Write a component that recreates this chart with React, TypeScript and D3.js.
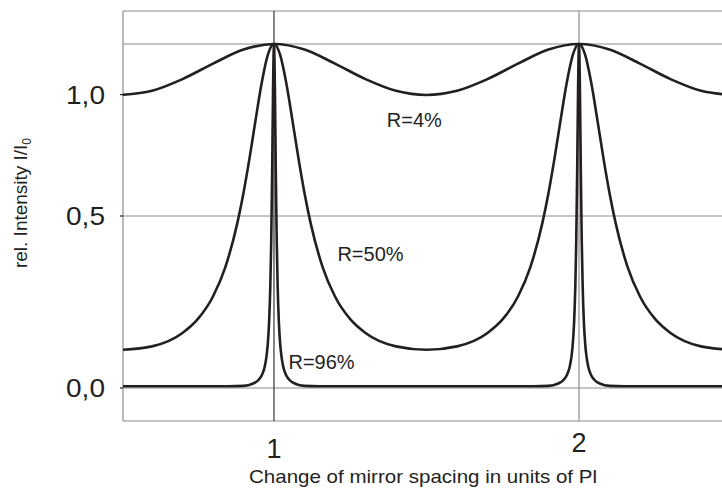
import React from 'react';
import * as d3 from 'd3';

// Transmission of a Fabry-Perot etalon for three mirror reflectivities.
// Values.
const seriesNames = ['R=4%', 'R=50%', 'R=96%'];

const r4X = [0.5, 0.6, 0.7, 0.8, 0.9, 1.0, 1.1, 1.2, 1.3, 1.4, 1.5, 1.6, 1.7, 1.8, 1.9, 2.0, 2.1, 2.2, 2.3, 2.4, 2.5];
const r4Y = [0.852, 0.864, 0.898, 0.943, 0.984, 1.0, 0.984, 0.943, 0.898, 0.864, 0.852, 0.864, 0.898, 0.943, 0.984, 1.0, 0.984, 0.943, 0.898, 0.864, 0.852];

const r50X = [
  0.5, 0.6, 0.7, 0.75, 0.8, 0.84, 0.88, 0.9, 0.92, 0.94, 0.96, 0.98, 1.0,
  1.02, 1.04, 1.06, 1.08, 1.1, 1.12, 1.16, 1.2, 1.25, 1.3, 1.4, 1.5,
  1.6, 1.7, 1.75, 1.8, 1.84, 1.88, 1.9, 1.92, 1.94, 1.96, 1.98, 2.0,
  2.02, 2.04, 2.06, 2.08, 2.1, 2.12, 2.16, 2.2, 2.25, 2.3, 2.4, 2.5,
];
const r50Y = [
  0.111, 0.121, 0.16, 0.2, 0.266, 0.35, 0.48, 0.567, 0.669, 0.781, 0.888, 0.969, 1.0,
  0.969, 0.888, 0.781, 0.669, 0.567, 0.48, 0.35, 0.266, 0.2, 0.16, 0.121, 0.111,
  0.121, 0.16, 0.2, 0.266, 0.35, 0.48, 0.567, 0.669, 0.781, 0.888, 0.969, 1.0,
  0.969, 0.888, 0.781, 0.669, 0.567, 0.48, 0.35, 0.266, 0.2, 0.16, 0.121, 0.111,
];

const r96X = [
  0.5, 0.75, 0.85, 0.9, 0.93, 0.95, 0.96, 0.97, 0.975, 0.98, 0.984, 0.988, 0.991, 0.994, 0.997, 1.0,
  1.003, 1.006, 1.009, 1.012, 1.016, 1.02, 1.025, 1.03, 1.04, 1.05, 1.07, 1.1, 1.15, 1.25, 1.5,
  1.75, 1.85, 1.9, 1.93, 1.95, 1.96, 1.97, 1.975, 1.98, 1.984, 1.988, 1.991, 1.994, 1.997, 2.0,
  2.003, 2.006, 2.009, 2.012, 2.016, 2.02, 2.025, 2.03, 2.04, 2.05, 2.07, 2.1, 2.15, 2.25, 2.5,
];
const r96Y = [
  0.005, 0.005, 0.005, 0.0062, 0.0124, 0.0239, 0.0368, 0.0634, 0.0888, 0.132, 0.192, 0.297, 0.429, 0.628, 0.871, 1.0,
  0.871, 0.628, 0.429, 0.297, 0.192, 0.132, 0.0888, 0.0634, 0.0368, 0.0239, 0.0124, 0.0062, 0.005, 0.005, 0.005,
  0.005, 0.005, 0.0062, 0.0124, 0.0239, 0.0368, 0.0634, 0.0888, 0.132, 0.192, 0.297, 0.429, 0.628, 0.871, 1.0,
  0.871, 0.628, 0.429, 0.297, 0.192, 0.132, 0.0888, 0.0634, 0.0368, 0.0239, 0.0124, 0.0062, 0.005, 0.005, 0.005,
];

// where each curve's name is written (data units)
const seriesLabelX = [1.37, 1.208, 1.0475];
const seriesLabelY = [0.759, 0.369, 0.055];

const xTicks = [1, 2];
const yGrid = [0, 0.5, 1.0];
// the "1,0" label sits at the R=4% minimum in the source, not on the 1.0 line
const yTickPos = [0, 0.5, 0.853];
const yTickText = ['0,0', '0,5', '1,0'];

const xTitle = 'Change of mirror spacing in units of Pl';

const W = 722;
const H = 488;
const INK = '#231f20';
const GRID = '#8c8c8c';
const FONT = '"Liberation Sans", Arial, Helvetica, sans-serif';

export default function App() {
  const x = d3.scaleLinear().domain([0.505, 2.5]).range([123, 731.5]);
  const y = d3.scaleLinear().domain([-0.096, 1.096]).range([421, 11]);
  const [x0, x1] = x.range();
  const [yBot, yTop] = y.range();

  const line = d3
    .line<[number, number]>()
    .x(d => x(d[0]))
    .y(d => y(d[1]))
    .curve(d3.curveMonotoneX);

  const series = [
    d3.zip(r4X, r4Y),
    d3.zip(r50X, r50Y),
    d3.zip(r96X, r96Y),
  ] as [number, number][][];

  // small quirk of the source: the "2" is set a bit higher than the "1"
  const xTickNudge: Record<number, number> = { 1: 0, 2: -6 };

  return (
    <svg
      width={W}
      height={H}
      style={{ position: 'absolute', left: 0, top: 0, background: '#fff' }}
      fontFamily={FONT}
    >
      <defs>
        <clipPath id="plot">
          <rect x={x0} y={yTop} width={x1 - x0} height={yBot - yTop} />
        </clipPath>
      </defs>

      {/* frame */}
      <g stroke={GRID} strokeWidth={1.2} fill="none">
        <line x1={x0} x2={W} y1={yTop} y2={yTop} />
        <line x1={x0} x2={W} y1={yBot} y2={yBot} />
        <line x1={x0} x2={x0} y1={yTop} y2={yBot} />
      </g>

      {/* grid */}
      <g fill="none">
        {yGrid.map(v => (
          <line key={v} x1={x0} x2={W} y1={y(v)} y2={y(v)} stroke={GRID} strokeWidth={1.2} />
        ))}
        {xTicks.map(v => (
          <line
            key={v}
            x1={x(v)}
            x2={x(v)}
            y1={yTop}
            y2={yBot}
            stroke={v === 1 ? '#333' : GRID}
            strokeWidth={1.2}
          />
        ))}
        {yTickPos.map(v => (
          <line key={v} x1={x0 - 3} x2={x0} y1={y(v)} y2={y(v)} stroke={INK} strokeWidth={1.2} />
        ))}
      </g>

      {/* curves */}
      <g clipPath="url(#plot)" fill="none" stroke={INK} strokeWidth={2.6} strokeLinejoin="round">
        {series.map((s, i) => (
          <path key={seriesNames[i]} d={line(s) ?? ''} />
        ))}
      </g>

      {/* curve names */}
      <g fontSize={20} fill={INK}>
        {seriesNames.map((n, i) => (
          <text key={n} x={x(seriesLabelX[i])} y={y(seriesLabelY[i])}>
            {n}
          </text>
        ))}
      </g>

      {/* y tick labels */}
      <g fontSize={26} fill={INK} textAnchor="end">
        {yTickPos.map((v, i) => (
          <text key={v} x={105} y={y(v)} dy="0.35em" textLength={39} lengthAdjust="spacingAndGlyphs">
            {yTickText[i]}
          </text>
        ))}
      </g>

      {/* x tick labels */}
      <g fontSize={27} fill={INK} textAnchor="middle">
        {xTicks.map(v => (
          <text key={v} x={x(v)} y={yBot + 37 + xTickNudge[v]}>
            {v}
          </text>
        ))}
      </g>

      {/* axis titles */}
      <text
        x={249}
        y={483}
        fontSize={19}
        fill={INK}
        textLength={348}
        lengthAdjust="spacingAndGlyphs"
      >
        {xTitle}
      </text>
      <text
        transform={`translate(27, 268) rotate(-90)`}
        fontSize={19}
        fill={INK}
        textLength={130}
        lengthAdjust="spacingAndGlyphs"
      >
        rel. Intensity I/I
        <tspan fontSize={12} dy={4}>
          0
        </tspan>
      </text>
    </svg>
  );
}
